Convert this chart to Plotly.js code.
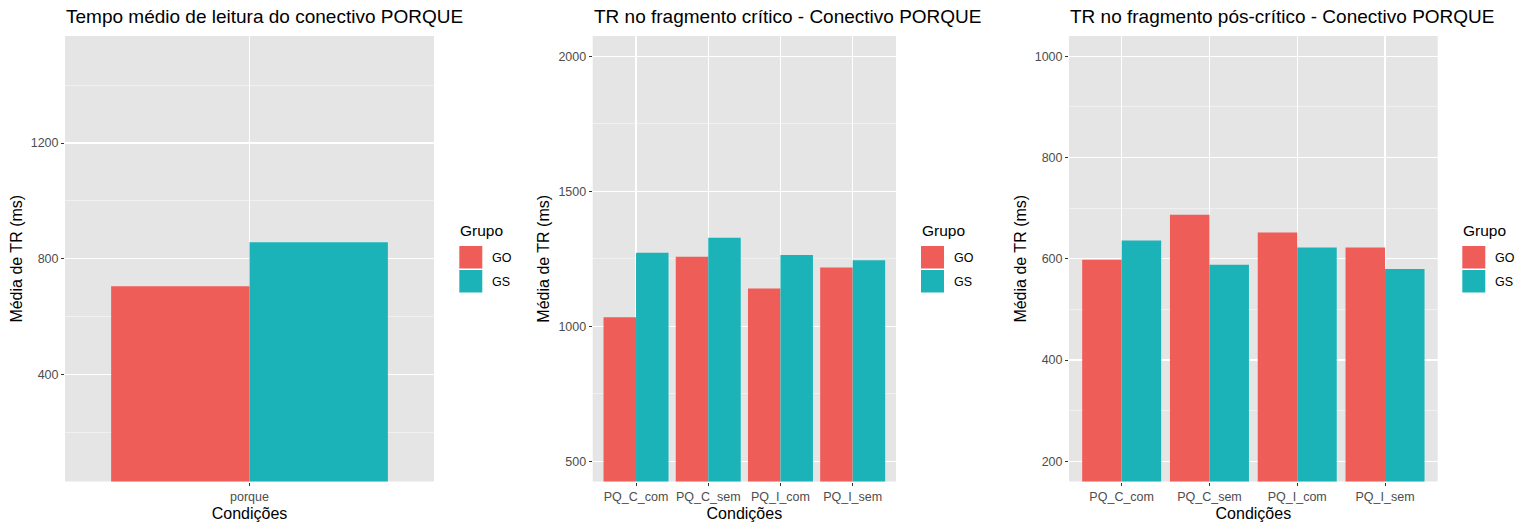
<!DOCTYPE html>
<html>
<head>
<meta charset="utf-8">
<script src="https://cdn.plot.ly/plotly-3.0.1.min.js"></script>
<style>html,body{margin:0;padding:0;background:#fff;}#chart{width:1525px;height:529px;}</style>
</head>
<body>
<div id="chart"></div>
<script>
// ---- data ----
const groups = ['GO', 'GS'];
const groupColors = ['#EE5D58', '#1CB3B8'];
const legendTitle = 'Grupo';

const titles = [
  'Tempo médio de leitura do conectivo PORQUE',
  'TR no fragmento crítico - Conectivo PORQUE',
  'TR no fragmento pós-crítico - Conectivo PORQUE'
];
const xTitle = 'Condições';
const yTitle = 'Média de TR (ms)';

const p1Categories = ['porque'];
const p1GO = [705];
const p1GS = [857];

const p2Categories = ['PQ_C_com', 'PQ_C_sem', 'PQ_I_com', 'PQ_I_sem'];
const p2GO = [1033, 1257, 1140, 1218];
const p2GS = [1272, 1328, 1264, 1244];

const p3Categories = ['PQ_C_com', 'PQ_C_sem', 'PQ_I_com', 'PQ_I_sem'];
const p3GO = [598, 687, 652, 622];
const p3GS = [636, 588, 622, 580];

const p1YRange = [30, 1570];
const p2YRange = [425, 2075];
const p3YRange = [160, 1040];

// ---- layout helpers ----
const W = 1525, H = 529;
const px = x => x / W;
const py = y => 1 - y / H;
const FONT = 'Liberation Sans, Arial, sans-serif';

const panels = [
  {cats: p1Categories, go: p1GO, gs: p1GS, yr: p1YRange, dtick: 400, minor: 200, x0: 65, x1: 434, legX: 459.3},
  {cats: p2Categories, go: p2GO, gs: p2GS, yr: p2YRange, dtick: 500, minor: 250, x0: 592.7, x1: 896, legX: 921},
  {cats: p3Categories, go: p3GO, gs: p3GS, yr: p3YRange, dtick: 200, minor: 100, x0: 1069, x1: 1437.7, legX: 1462.3}
];
const yTop = 36, yBot = 481.5;

const data = [];
const layout = {
  width: W, height: H,
  margin: {l: 0, r: 0, t: 0, b: 0},
  paper_bgcolor: '#FFFFFF',
  plot_bgcolor: '#E5E5E5',
  barmode: 'group',
  bargap: 0.1,
  bargroupgap: 0,
  showlegend: false,
  font: {family: FONT, color: '#000'},
  shapes: [],
  annotations: []
};

panels.forEach((p, i) => {
  const n = i === 0 ? '' : String(i + 1);
  const xa = 'x' + n, ya = 'y' + n;
  [p.go, p.gs].forEach((vals, g) => {
    data.push({
      type: 'bar', x: p.cats, y: vals, name: groups[g],
      xaxis: xa, yaxis: ya,
      marker: {color: groupColors[g], line: {width: 0}},
      hoverinfo: 'x+y+name'
    });
  });
  layout['xaxis' + n] = {
    domain: [px(p.x0), px(p.x1)], anchor: ya, type: 'category',
    range: [-0.6, p.cats.length - 0.4],
    showgrid: true, gridcolor: '#FFFFFF', gridwidth: 1.4,
    zeroline: false, showline: false,
    ticks: 'outside', ticklen: 3, tickwidth: 1, tickcolor: '#333333',
    tickfont: {family: FONT, size: 12.5, color: '#4D4D4D'},
    title: {text: xTitle, font: {family: FONT, size: 16, color: '#000'}, standoff: 5},
    fixedrange: true
  };
  layout['yaxis' + n] = {
    domain: [py(yBot), py(yTop)], anchor: xa,
    range: p.yr, tick0: 0, dtick: p.dtick,
    showgrid: true, gridcolor: '#FFFFFF', gridwidth: 1.4,
    minor: {tick0: 0, dtick: p.minor, showgrid: true, gridcolor: '#F5F5F5', gridwidth: 0.7, ticks: ''},
    zeroline: false, showline: false,
    ticks: 'outside', ticklen: 3, tickwidth: 1, tickcolor: '#333333',
    tickfont: {family: FONT, size: 12.5, color: '#4D4D4D'},
    title: {text: yTitle, font: {family: FONT, size: 16, color: '#000'}, standoff: 4},
    fixedrange: true
  };
  // panel title
  layout.annotations.push({
    xref: 'paper', yref: 'paper', x: px(p.x0 - 1), y: py(17),
    xanchor: 'left', yanchor: 'middle', showarrow: false,
    text: titles[i], font: {family: FONT, size: 19, color: '#000'}
  });
  // legend title
  layout.annotations.push({
    xref: 'paper', yref: 'paper', x: px(p.legX - 1), y: py(231),
    xanchor: 'left', yanchor: 'middle', showarrow: false,
    text: legendTitle, font: {family: FONT, size: 15.5, color: '#000'}
  });
  // legend keys
  groups.forEach((gname, g) => {
    const top = 246 + g * 24;
    layout.shapes.push({
      type: 'rect', xref: 'paper', yref: 'paper',
      x0: px(p.legX), x1: px(p.legX + 23), y0: py(top + 22.5), y1: py(top),
      fillcolor: groupColors[g], line: {width: 0}
    });
    layout.annotations.push({
      xref: 'paper', yref: 'paper', x: px(p.legX + 31), y: py(top + 11.5),
      xanchor: 'left', yanchor: 'middle', showarrow: false,
      text: gname, font: {family: FONT, size: 12.5, color: '#000'}
    });
  });
});

Plotly.newPlot('chart', data, layout, {displayModeBar: false, staticPlot: true});
</script>
</body>
</html>
